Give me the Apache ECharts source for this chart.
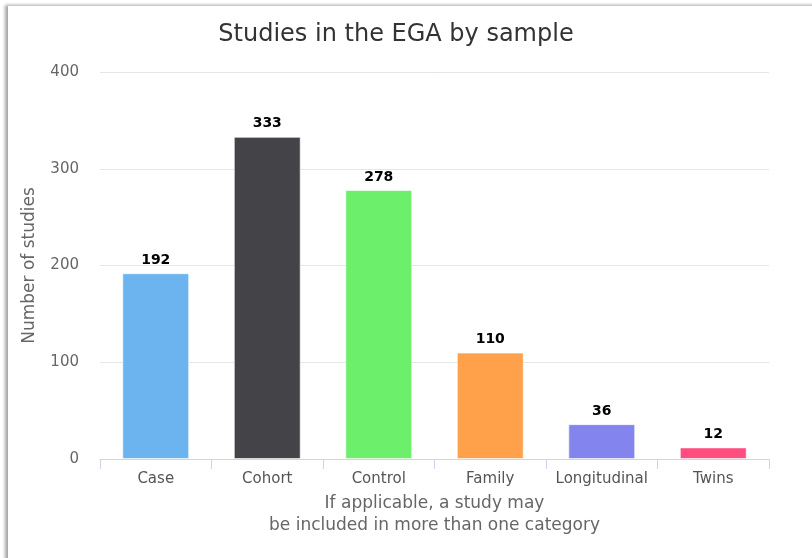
<!DOCTYPE html>
<html>
<head>
<meta charset="utf-8">
<script src="https://cdn.jsdelivr.net/npm/echarts@6/dist/echarts.min.js"></script>
<style>
  html, body { margin: 0; padding: 0; background: #fff; }
  #frame {
    position: absolute; left: 8px; top: 6px; width: 820px; height: 560px;
    box-shadow: -3px -1px 3px rgba(0,0,0,0.35);
    background: #fff;
  }
  #chart { position: absolute; left: 0; top: 0; width: 812px; height: 558px; }
</style>
</head>
<body>
<div id="frame"></div>
<div id="chart"></div>
<script>
// 样本类别
var categories = ['Case', 'Cohort', 'Control', 'Family', 'Longitudinal', 'Twins'];
var studyCounts = [192, 333, 278, 110, 36, 12];
var barColors = ['#6cb4f0', '#444348', '#6cf06c', '#ffa04b', '#8484ee', '#ff4d80'];
var yTicks = [0, 100, 200, 300, 400];

var chart = echarts.init(document.getElementById('chart'), null, { renderer: 'canvas' });
chart.setOption({
  backgroundColor: 'transparent',
  textStyle: { fontFamily: 'DejaVu Sans' },
  title: {
    text: 'Studies in the EGA by sample',
    left: 391,
    textAlign: 'center',
    top: 18,
    textStyle: { fontSize: 24, fontWeight: 'normal', color: '#333', fontFamily: 'DejaVu Sans' }
  },
  grid: { left: 100, right: 43, top: 72, bottom: 99 },
  xAxis: {
    type: 'category',
    data: categories,
    name: 'If applicable, a study may\nbe included in more than one category',
    nameLocation: 'middle',
    nameGap: 34,
    nameTextStyle: { fontSize: 17, color: '#666', lineHeight: 22 },
    axisLine: { lineStyle: { color: '#ccd6eb' } },
    axisTick: { show: true, length: 10, lineStyle: { color: '#ccd6eb' } },
    axisLabel: { fontSize: 15, color: '#555', margin: 13, interval: 0, hideOverlap: false }
  },
  yAxis: {
    type: 'value',
    min: yTicks[0],
    max: yTicks[yTicks.length - 1],
    interval: 100,
    name: 'Number of studies',
    nameLocation: 'middle',
    nameGap: 62,
    nameTextStyle: { fontSize: 17, color: '#666' },
    axisLine: { show: false },
    axisTick: { show: false },
    axisLabel: { fontSize: 15, color: '#666', margin: 21 },
    splitLine: { lineStyle: { color: '#e6e6e6' } }
  },
  series: [{
    type: 'bar',
    barWidth: '60%',
    data: studyCounts.map(function (v, i) {
      return { value: v, itemStyle: { color: barColors[i] } };
    }),
    itemStyle: { borderColor: 'rgba(255,255,255,0.6)', borderWidth: 1 },
    label: {
      show: true,
      position: 'top',
      distance: 6,
      fontSize: 14,
      fontWeight: 'bold',
      color: '#000'
    },
    emphasis: { disabled: true }
  }]
});
</script>
</body>
</html>
